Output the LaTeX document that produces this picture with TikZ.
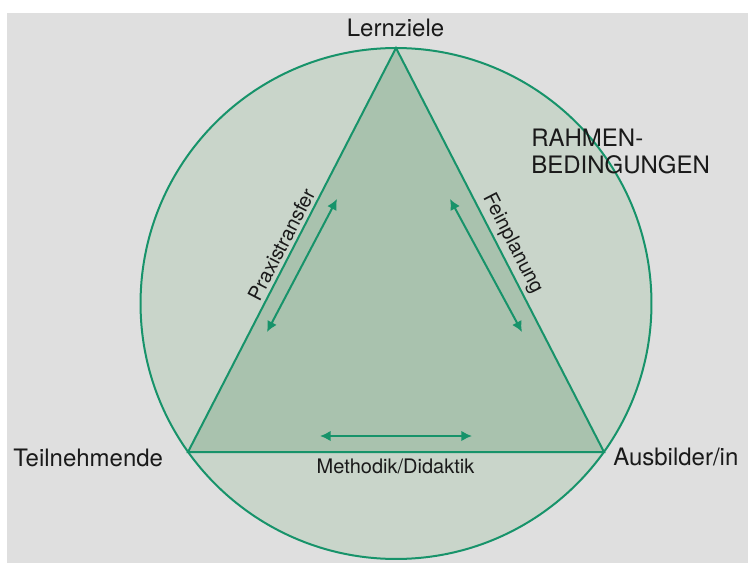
\documentclass[tikz,border=0pt]{standalone}
\usepackage{fontspec}
\setmainfont{TeX Gyre Heros}
\usetikzlibrary{arrows.meta}
\definecolor{bggray}{HTML}{DFDFDF}
\definecolor{circfill}{HTML}{C9D5CA}
\definecolor{trifill}{HTML}{A9C2AE}
\definecolor{lgreen}{HTML}{17936A}
\definecolor{txt}{HTML}{1A1A1A}
\tikzset{
  bigtext/.style={font=\fontsize{18}{20.25}\selectfont, text=txt, inner sep=0pt},
  smalltext/.style={font=\fontsize{15}{17}\selectfont, text=txt, inner sep=1.5pt},
  edgetext/.style={font=\fontsize{15}{17}\selectfont, text=txt, inner sep=3.2pt},
  gline/.style={draw=lgreen, line width=1.5pt},
  arr/.style={draw=lgreen, line width=1.5pt, {Latex[length=8pt,width=8pt]}-{Latex[length=8pt,width=8pt]}}
}
\begin{document}
\begin{tikzpicture}[x=0.75pt, y=-0.75pt]
\useasboundingbox (0,0) rectangle (748,563);
\fill[white] (0,0) rectangle (748,563);
\fill[bggray] (7,13) rectangle (748,563);
% circle
\coordinate (C) at (396,303.5);
\filldraw[fill=circfill, draw=lgreen, line width=1.5pt] (C) circle [radius=191.6pt];
% triangle
\coordinate (L) at (396,48);
\coordinate (T) at (188,452);
\coordinate (A) at (604,452);
\filldraw[fill=trifill, draw=lgreen, line width=1.5pt, line join=miter] (L) -- (T) -- (A) -- cycle;
% edge labels
\path (T) -- node[edgetext, sloped, above, pos=0.5] {Praxistransfer} (L);
\path (L) -- node[edgetext, sloped, above, pos=0.5] {Feinplanung} (A);
\node[smalltext, anchor=base] (md) at (395.5,473) {Methodik/Didaktik};
% arrows
\coordinate (p1) at (267,332);
\coordinate (p2) at (337,199);
\coordinate (f1) at (450,199);
\coordinate (f2) at (522,332);
\coordinate (m1) at (320,436);
\coordinate (m2) at (472,436);
\draw[arr] (p1) -- (p2);
\draw[arr] (f1) -- (f2);
\draw[arr] (m1) -- (m2);
% vertex labels
\node[bigtext, anchor=base] (lz) at (395.5,37) {Lernziele};
\node[bigtext, anchor=base west] (tn) at (13,466) {Teilnehmende};
\node[bigtext, anchor=base west] (ab) at (613,465) {Ausbilder/in};
\node[bigtext, anchor=north west, align=left] (rb) at (531,129) {RAHMEN-\\BEDINGUNGEN};
\end{tikzpicture}
\end{document}
